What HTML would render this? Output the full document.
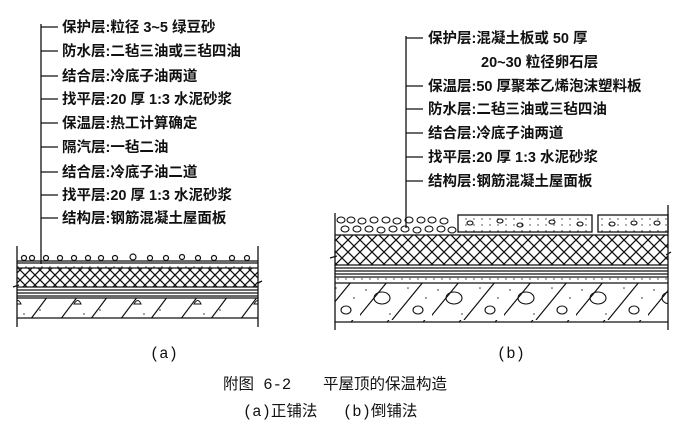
<!DOCTYPE html>
<html><head><meta charset="utf-8"><style>
html,body{margin:0;padding:0;background:#fff;}
svg{display:block;}
.l{font-family:"Liberation Sans","Noto Sans CJK SC",sans-serif;font-size:14.5px;font-weight:bold;fill:#111;}
.c{font-family:"Liberation Mono","Noto Sans CJK SC",sans-serif;font-size:15.5px;fill:#111;}
</style></head><body>
<svg width="685" height="431" viewBox="0 0 685 431" xmlns="http://www.w3.org/2000/svg">
<defs>
<pattern id="x" width="10" height="10" patternUnits="userSpaceOnUse">
<path d="M0 0L10 10M10 0L0 10" stroke="#111" stroke-width="1.3"/>
</pattern>
<pattern id="x2" width="12" height="12" patternUnits="userSpaceOnUse">
<path d="M0 0L12 12M12 0L0 12" stroke="#111" stroke-width="1.3"/>
</pattern>
<pattern id="conc" width="60" height="40" patternUnits="userSpaceOnUse">
<path d="M0 40L30 0M30 40L60 0" stroke="#111" stroke-width="1.2"/>
<path d="M14 24q4 -7 7 0z" fill="none" stroke="#111" stroke-width="1"/>
<circle cx="6" cy="10" r="0.8" fill="#333"/><circle cx="24" cy="34" r="0.8" fill="#333"/><circle cx="40" cy="30" r="0.8" fill="#333"/><circle cx="52" cy="14" r="0.8" fill="#333"/>
</pattern>
<pattern id="conc2" width="72" height="40" patternUnits="userSpaceOnUse">
<path d="M-4 40L32 -4M32 40L68 -4" stroke="#111" stroke-width="1.2"/>
<ellipse cx="22" cy="18" rx="8" ry="6" fill="none" stroke="#111" stroke-width="1.1"/>
<ellipse cx="58" cy="30" rx="5" ry="4" fill="none" stroke="#111" stroke-width="1.1"/>
<circle cx="6" cy="10" r="0.8" fill="#333"/><circle cx="30" cy="34" r="0.8" fill="#333"/><circle cx="48" cy="8" r="0.8" fill="#333"/><circle cx="66" cy="18" r="0.8" fill="#333"/>
</pattern>
<pattern id="dots" width="8" height="6" patternUnits="userSpaceOnUse">
<circle cx="2" cy="3" r="0.7" fill="#333"/>
</pattern>
</defs>

<g stroke="#111" stroke-width="1.3" fill="none">
<path d="M41 24V264"/>
<path d="M41 27H58M41 51H58M41 76H58M41 99H58M41 123H58M41 147H58M41 172H58M41 195H58M41 218H58"/>
</g>
<g class="l">
<text x="62" y="32">保护层:粒径 3~5 绿豆砂</text>
<text x="62" y="56">防水层:二毡三油或三毡四油</text>
<text x="62" y="81">结合层:冷底子油两道</text>
<text x="62" y="104">找平层:20 厚 1:3 水泥砂浆</text>
<text x="62" y="128">保温层:热工计算确定</text>
<text x="62" y="152">隔汽层:一毡二油</text>
<text x="62" y="177">结合层:冷底子油二道</text>
<text x="62" y="200">找平层:20 厚 1:3 水泥砂浆</text>
<text x="62" y="223">结构层:钢筋混凝土屋面板</text>
</g>

<g stroke="#111" fill="none" stroke-width="1.3">
<rect x="17" y="268" width="241" height="19" fill="url(#x)" stroke="none"/>
<rect x="17" y="298" width="241" height="20" fill="url(#conc)" stroke="none"/>
<rect x="17" y="262" width="241" height="6" fill="url(#dots)" stroke="none"/>
<path d="M17 246V327M258 246V327"/>
<path d="M17 261H258M17 263H258M17 268H258M17 287H258M17 290H258M17 293H258M17 296H258M17 298H258M17 318H258"/>
<path d="M13 287L19 285M262 281L258 283" />
</g>
<g fill="none" stroke="#111" stroke-width="1.2">
<circle cx="24" cy="258" r="2.5"/><circle cx="32" cy="258" r="2.5"/><circle cx="46" cy="258" r="2.5"/><circle cx="60" cy="258" r="2.5"/><circle cx="74" cy="258" r="2.5"/><circle cx="88" cy="258" r="2.5"/><circle cx="101" cy="258" r="2.5"/><circle cx="115" cy="258" r="2.5"/><circle cx="133" cy="257" r="3"/><circle cx="150" cy="258" r="2.5"/><circle cx="166" cy="258" r="2.5"/><circle cx="182" cy="257" r="2.5"/><circle cx="198" cy="258" r="2.5"/><circle cx="214" cy="258" r="2.5"/><circle cx="232" cy="258" r="2.5"/><circle cx="247" cy="258" r="2.5"/>
</g>

<g stroke="#111" stroke-width="1.3" fill="none">
<path d="M406 36V228"/>
<path d="M406 38H423M406 86H423M406 109H423M406 133H423M406 157H423M406 181H423"/>
</g>
<g class="l">
<text x="428" y="43">保护层:混凝土板或 50 厚</text>
<text x="481" y="67">20~30 粒径卵石层</text>
<text x="428" y="91">保温层:50 厚聚苯乙烯泡沫塑料板</text>
<text x="428" y="114">防水层:二毡三油或三毡四油</text>
<text x="428" y="138">结合层:冷底子油两道</text>
<text x="428" y="162">找平层:20 厚 1:3 水泥砂浆</text>
<text x="428" y="186">结构层:钢筋混凝土屋面板</text>
</g>

<g stroke="#111" fill="none" stroke-width="1.3">
<rect x="335" y="235" width="333" height="30" fill="url(#x2)" stroke="none"/>
<rect x="335" y="283" width="333" height="39" fill="url(#conc2)" stroke="none"/>
<rect x="335" y="277" width="333" height="6" fill="url(#dots)" stroke="none"/>
<rect x="458" y="215" width="134" height="17" fill="url(#dots)"/>
<rect x="598" y="215" width="70" height="17" fill="url(#dots)"/>
<path d="M335 213V330M668 205V330"/>
<path d="M335 235H668M335 265H668M335 268H668M335 271H668M335 274H668M335 277H668M335 283H668M335 322H668"/>
<path d="M330 258L337 256M671 252L666 255"/>
</g>
<g fill="none" stroke="#111" stroke-width="1.1">
<ellipse cx="341" cy="220" rx="4" ry="3"/><ellipse cx="351" cy="220" rx="4" ry="3"/><ellipse cx="362" cy="221" rx="4" ry="3"/><ellipse cx="374" cy="220" rx="4" ry="3"/><ellipse cx="386" cy="220" rx="4" ry="3"/><ellipse cx="397" cy="221" rx="4" ry="3"/><ellipse cx="409" cy="220" rx="4" ry="3"/><ellipse cx="421" cy="220" rx="4" ry="3"/><ellipse cx="432" cy="220" rx="4" ry="3"/><ellipse cx="444" cy="221" rx="4" ry="3"/>
<ellipse cx="345" cy="229" rx="4" ry="3"/><ellipse cx="357" cy="229" rx="4" ry="3"/><ellipse cx="369" cy="229" rx="4" ry="3"/><ellipse cx="381" cy="230" rx="4" ry="3"/><ellipse cx="393" cy="229" rx="4" ry="3"/><ellipse cx="405" cy="229" rx="4" ry="3"/><ellipse cx="417" cy="230" rx="4" ry="3"/><ellipse cx="429" cy="229" rx="4" ry="3"/><ellipse cx="441" cy="229" rx="4" ry="3"/><ellipse cx="452" cy="230" rx="4" ry="3"/>
<ellipse cx="470" cy="223" rx="3" ry="2"/><ellipse cx="500" cy="221" rx="3" ry="2"/><ellipse cx="520" cy="225" rx="3" ry="2"/><ellipse cx="552" cy="222" rx="3" ry="2"/><ellipse cx="580" cy="224" rx="3" ry="2"/><ellipse cx="612" cy="224" rx="3" ry="2"/><ellipse cx="634" cy="223" rx="3" ry="2"/><ellipse cx="657" cy="223" rx="3" ry="2"/>
</g>

<g class="c">
<text x="150" y="358">(a)</text>
<text x="497" y="358">(b)</text>
<text x="223" y="389">附图 6-2</text>
<text x="323" y="389">平屋顶的保温构造</text>
<text x="243" y="416">(a)正铺法</text>
<text x="343" y="416">(b)倒铺法</text>
</g>
</svg>
</body></html>
